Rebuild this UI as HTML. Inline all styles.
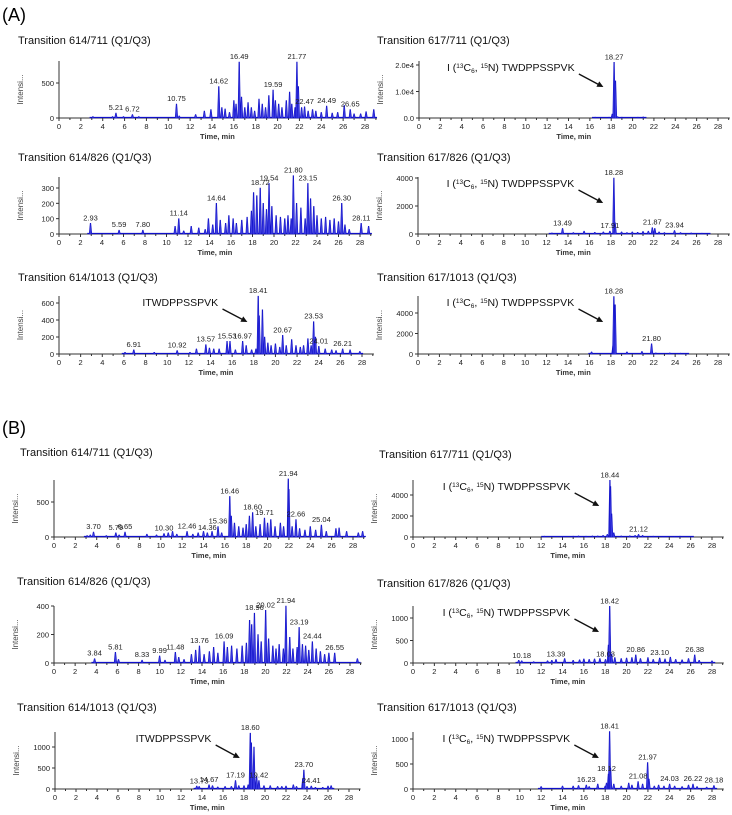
<!DOCTYPE html>
<html><head><meta charset="utf-8">
<style>
body{margin:0;background:#fff;}
svg{display:block;font-family:"Liberation Sans",Arial,sans-serif;}
</style></head>
<body>
<svg id="fig" width="732" height="815" viewBox="0 0 732 815" xmlns="http://www.w3.org/2000/svg">
<text x="2" y="21" font-size="18">(A)</text>
<text x="2" y="434" font-size="18">(B)</text>
</svg>
<script>
// ---- data: peak retention times (min) and intensities ----
const a1Times=[3.1,4.9,5.21,5.9,6.72,7.3,10.75,11.0,12.5,13.3,13.9,14.62,14.9,15.2,15.6,16.0,16.2,16.49,16.7,17.0,17.3,17.6,17.9,18.3,18.6,18.9,19.2,19.59,19.8,20.1,20.4,20.8,21.1,21.3,21.6,21.77,21.9,22.2,22.47,22.8,23.2,23.5,24.0,24.49,25.0,25.5,26.1,26.65,27.0,27.6,28.1,28.8];
const a1Vals=[20,20,70,20,50,20,200,30,50,100,120,450,150,130,80,250,200,800,300,150,220,150,100,270,200,150,320,400,250,200,150,250,370,200,150,800,450,150,160,100,120,100,80,170,70,80,180,120,60,60,90,120];
const a1Labels=[5.21,6.72,10.75,14.62,16.49,19.59,21.77,22.47,24.49,26.65];

const a2Times=[2.93,5.59,7.80,10.8,11.14,11.6,12.3,13.0,13.6,13.9,14.3,14.64,15.0,15.5,15.8,16.2,16.5,17.0,17.5,17.9,18.1,18.4,18.72,19.0,19.3,19.54,19.8,20.2,20.6,21.0,21.3,21.6,21.80,22.1,22.5,22.9,23.15,23.4,23.7,24.0,24.4,24.8,25.2,25.6,26.0,26.30,26.6,27.0,28.11,28.8];
const a2Vals=[70,25,25,50,100,20,50,40,30,100,60,200,90,70,120,100,70,90,110,150,270,250,300,200,160,330,180,120,110,100,120,100,380,200,170,100,330,230,180,120,100,110,90,100,80,200,60,30,70,50];
const a2Labels=[2.93,5.59,7.80,11.14,14.64,18.72,19.54,21.80,23.15,26.30,28.11];

const a3Times=[6.1,6.91,8.8,10.92,12.1,12.7,13.57,13.9,14.3,14.8,15.53,15.8,16.3,16.97,17.3,17.8,18.2,18.41,18.5,18.8,19.0,19.3,19.6,20.0,20.4,20.67,21.0,21.5,21.9,22.3,22.6,23.0,23.3,23.53,23.7,24.01,24.6,25.2,25.6,26.21,26.9,27.8];
const a3Vals=[20,50,20,40,20,60,110,70,60,60,150,150,50,150,100,50,60,680,450,520,200,130,100,120,80,220,100,170,100,80,100,180,100,380,200,90,60,50,40,60,50,30];
const a3Labels=[6.91,10.92,13.57,15.53,16.97,18.41,20.67,23.53,24.01,26.21];

const a4Times=[16.5,17.8,18.1,18.27,18.4,18.6,19.0,20.5,21.0];
const a4Vals=[300,300,1500,21000,14000,500,300,300,400];
const a4Labels=[18.27];

const a5Times=[12.5,13.49,14.5,15.5,16.5,17.3,17.91,18.28,18.4,19.0,19.5,20.0,20.5,21.0,21.5,21.87,22.1,22.5,23.0,23.94,24.5,25.5,26.5,27.0];
const a5Vals=[80,400,100,200,120,150,200,4000,800,150,100,150,120,180,200,450,400,150,100,250,100,80,60,40];
const a5Labels=[13.49,17.91,18.28,21.87,23.94];

const a6Times=[16.2,18.2,18.28,18.4,19.5,20.9,21.80,22.2,23.5,24.5,25.0];
const a6Vals=[200,800,5600,4800,200,250,1000,100,100,80,60];
const a6Labels=[18.28,21.80];

const b1Times=[3.1,3.4,3.70,4.9,5.79,6.1,6.65,8.7,9.6,10.30,10.7,11.1,11.5,12.46,13.0,13.5,14.0,14.36,14.8,15.36,15.7,16.46,16.6,16.9,17.3,17.7,18.0,18.3,18.60,18.9,19.3,19.71,20.0,20.3,20.7,21.2,21.5,21.94,22.0,22.3,22.66,23.0,23.5,24.0,24.5,25.04,25.5,26.4,26.7,27.4,28.5,28.9];
const b1Vals=[20,30,70,20,60,30,70,40,30,50,60,80,40,80,40,60,80,60,80,150,60,580,300,200,150,130,180,300,350,150,180,270,200,250,150,200,150,830,680,150,250,120,100,150,100,170,80,120,130,80,60,80];
const b1Labels=[3.70,5.79,6.65,10.30,12.46,14.36,15.36,16.46,18.60,19.71,21.94,22.66,25.04];

const b2Times=[3.84,5.81,6.1,8.33,9.99,10.5,11.48,11.8,12.3,13.0,13.4,13.76,14.2,14.7,15.1,15.5,16.09,16.4,16.8,17.3,17.8,18.2,18.5,18.7,18.96,19.3,19.6,20.02,20.3,20.7,21.0,21.3,21.7,21.94,22.3,22.6,23.0,23.19,23.5,23.8,24.1,24.44,24.8,25.2,25.6,26.0,26.55,28.7];
const b2Vals=[30,75,25,20,50,20,75,40,25,60,90,120,60,80,110,70,150,110,120,100,120,140,300,270,350,200,150,370,170,120,100,130,100,400,180,100,110,250,130,120,90,150,100,80,60,70,70,30];
const b2Labels=[3.84,5.81,8.33,9.99,11.48,13.76,16.09,18.96,20.02,21.94,23.19,24.44,26.55];

const b3Times=[13.5,13.73,14.67,15.0,15.5,16.2,16.8,17.19,17.5,18.0,18.4,18.60,18.7,18.95,19.2,19.42,19.9,20.5,21.2,21.6,22.0,22.7,23.0,23.6,23.70,24.0,24.41,24.8,25.5,26.0,26.3];
const b3Vals=[70,60,100,80,50,60,60,200,80,80,100,1330,1100,1000,300,200,80,80,60,60,70,100,60,250,450,60,70,40,40,70,80];
const b3Labels=[13.73,14.67,17.19,18.60,19.42,23.70,24.41];

const b4Times=[12.3,14.0,15.0,15.5,16.2,16.8,17.3,17.8,18.2,18.44,18.5,18.6,18.8,19.5,20.3,20.8,21.12,21.5,22.5,23.5,24.5,25.0,26.0];
const b4Vals=[80,60,80,100,80,100,100,150,250,5400,4800,2200,400,100,120,150,250,150,80,60,60,80,60];
const b4Labels=[18.44,21.12];

const b5Times=[9.9,10.18,11.3,12.6,13.0,13.39,14.2,15.0,15.6,16.0,16.5,17.0,17.5,18.03,18.3,18.42,18.6,18.9,19.5,20.0,20.5,20.86,21.3,22.0,22.5,23.10,23.6,24.1,24.6,25.2,25.8,26.38,26.8,28.0];
const b5Vals=[60,50,30,50,60,80,100,60,70,90,80,90,100,80,400,1260,200,120,100,110,120,180,100,120,80,110,90,130,80,70,100,180,60,50];
const b5Labels=[10.18,13.39,18.03,18.42,20.86,23.10,26.38];

const b6Times=[12.0,14.0,15.0,15.5,16.23,16.5,17.3,18.0,18.12,18.3,18.41,18.5,18.8,19.5,20.2,20.5,21.08,21.5,21.97,22.1,22.6,23.0,23.5,24.03,24.5,25.2,25.8,26.22,26.6,27.5,28.18];
const b6Vals=[50,60,60,70,80,50,100,60,120,300,1150,420,100,60,120,80,150,100,530,200,60,80,60,100,60,50,80,100,50,40,70];
const b6Labels=[16.23,18.12,18.41,21.08,21.97,24.03,26.22,28.18];

const xTickLabels=[0,2,4,6,8,10,12,14,16,18,20,22,24,26,28];
const yTicksA1=[0,500], yTicksA2=[0,100,200,300], yTicksA3=[0,200,400,600];
const yTicksA4=[0,10000,20000], yTicksA5=[0,2000,4000], yTicksA6=[0,2000,4000];
const yTicksB1=[0,500], yTicksB2=[0,200,400], yTicksB3=[0,500,1000];
const yTicksB4=[0,2000,4000], yTicksB5=[0,500,1000], yTicksB6=[0,500,1000];

// ---- layout ----
const NS="http://www.w3.org/2000/svg";
const svg=document.getElementById('fig');
function mk(tag,attrs,parent){const e=document.createElementNS(NS,tag);for(const k in attrs)e.setAttribute(k,attrs[k]);(parent||svg).appendChild(e);return e;}
const BLUE="#1010c8";
const panels=[
 {id:'a1',title:'Transition 614/711 (Q1/Q3)',tx:18,ty:44,x0:59,x28:365,base:118,top:61,ref:500,refY:83,t:a1Times,v:a1Vals,lab:a1Labels,yt:yTicksA1,fmt:v=>String(v)},
 {id:'a2',title:'Transition 614/826 (Q1/Q3)',tx:18,ty:161,x0:59,x28:360,base:234,top:177,ref:300,refY:188,t:a2Times,v:a2Vals,lab:a2Labels,yt:yTicksA2,fmt:v=>String(v)},
 {id:'a3',title:'Transition 614/1013 (Q1/Q3)',tx:18,ty:281,x0:59,x28:362,base:354,top:296,ref:600,refY:303,t:a3Times,v:a3Vals,lab:a3Labels,yt:yTicksA3,fmt:v=>String(v),pep:'ITWDPPSSPVK',pepT:18.41},
 {id:'a4',title:'Transition 617/711 (Q1/Q3)',tx:377,ty:44,x0:419,x28:718,base:118,top:61,ref:20000,refY:65,t:a4Times,v:a4Vals,lab:a4Labels,yt:yTicksA4,fmt:v=>v===0?'0.0':(v/1e4).toFixed(1)+'e4',pep:'iso',pepT:18.27},
 {id:'a5',title:'Transition 617/826 (Q1/Q3)',tx:377,ty:161,x0:418,x28:718,base:234,top:177,ref:4000,refY:178,t:a5Times,v:a5Vals,lab:a5Labels,yt:yTicksA5,fmt:v=>String(v),pep:'iso',pepT:18.28},
 {id:'a6',title:'Transition 617/1013 (Q1/Q3)',tx:377,ty:281,x0:418,x28:718,base:354,top:296,ref:4000,refY:313,t:a6Times,v:a6Vals,lab:a6Labels,yt:yTicksA6,fmt:v=>String(v),pep:'iso',pepT:18.28},
 {id:'b1',title:'Transition 614/711 (Q1/Q3)',tx:20,ty:456,x0:54,x28:353,base:537,top:480,ref:500,refY:502,t:b1Times,v:b1Vals,lab:b1Labels,yt:yTicksB1,fmt:v=>String(v)},
 {id:'b2',title:'Transition 614/826 (Q1/Q3)',tx:17,ty:585,x0:54,x28:350,base:663,top:606,ref:400,refY:606,t:b2Times,v:b2Vals,lab:b2Labels,yt:yTicksB2,fmt:v=>String(v)},
 {id:'b3',title:'Transition 614/1013 (Q1/Q3)',tx:17,ty:711,x0:55,x28:349,base:789,top:732,ref:1000,refY:747,t:b3Times,v:b3Vals,lab:b3Labels,yt:yTicksB3,fmt:v=>String(v),pep:'ITWDPPSSPVK',pepT:18.60},
 {id:'b4',title:'Transition 617/711 (Q1/Q3)',tx:379,ty:458,x0:413,x28:712,base:537,top:480,ref:4000,refY:495,t:b4Times,v:b4Vals,lab:b4Labels,yt:yTicksB4,fmt:v=>String(v),pep:'iso',pepT:18.44},
 {id:'b5',title:'Transition 617/826 (Q1/Q3)',tx:377,ty:587,x0:413,x28:712,base:663,top:606,ref:1000,refY:618,t:b5Times,v:b5Vals,lab:b5Labels,yt:yTicksB5,fmt:v=>String(v),pep:'iso',pepT:18.42},
 {id:'b6',title:'Transition 617/1013 (Q1/Q3)',tx:377,ty:711,x0:413,x28:712,base:789,top:732,ref:1000,refY:739,t:b6Times,v:b6Vals,lab:b6Labels,yt:yTicksB6,fmt:v=>String(v),pep:'iso',pepT:18.41}
];

panels.forEach(p=>{
  const g=mk('g',{});
  
  
  const X=t=>p.x0+(p.x28-p.x0)*t/28;
  const Y=v=>p.base-(p.base-p.refY)*v/p.ref;
  const tt=mk('text',{x:p.tx,y:p.ty,'font-size':11,fill:'#111'},g);
  tt.textContent=p.title;
  
  
  const ya=mk('line',{x1:p.x0,y1:p.top,x2:p.x0,y2:p.base,stroke:'#333','stroke-width':1},g);
  
  
  p.yt.forEach(v=>{
    mk('line',{x1:p.x0-3,y1:Y(v),x2:p.x0,y2:Y(v),stroke:'#333'},g);
    const l=mk('text',{x:p.x0-5,y:Y(v)+3,'font-size':7.5,'text-anchor':'end',fill:'#222'},g);
    l.textContent=p.fmt(v);
    
    
  });
  const yl=mk('text',{x:0,y:0,'font-size':8,fill:'#444','text-anchor':'middle',transform:`translate(${p.x0-36},${(p.top+p.base)/2}) rotate(-90)`},g);
  yl.textContent='Intensi...';
  
  
  const xa=mk('line',{x1:p.x0,y1:p.base,x2:X(29.1),y2:p.base,stroke:'#333'},g);
  
  
  for(let t=0;t<=29;t++) mk('line',{x1:X(t),y1:p.base,x2:X(t),y2:p.base+(t%2?2:3),stroke:'#333'},g);
  xTickLabels.forEach(t=>{
    const l=mk('text',{x:X(t),y:p.base+11,'font-size':7.5,'text-anchor':'middle',fill:'#222'},g);
    l.textContent=t;
    
    
  });
  const xl=mk('text',{x:X(14.5),y:p.base+21,'font-size':7.5,'font-weight':'bold','text-anchor':'middle',fill:'#333'},g);
  xl.textContent='Time, min';
  
  
  const t0=p.t[0], t1=p.t[p.t.length-1];
  mk('line',{x1:X(t0-0.3),y1:p.base-0.5,x2:X(t1+0.3),y2:p.base-0.5,stroke:BLUE,'stroke-width':1.2},g);
  p.t.forEach((t,i)=>{
    const x=X(t), y=Y(p.v[i]);
    const pk=mk('polygon',{points:`${x-1.3},${p.base} ${x-0.3},${y} ${x+0.3},${y} ${x+1.3},${p.base}`,fill:'#3a3ae0',stroke:BLUE,'stroke-width':0.6},g);
    
    
  });
  p.lab.forEach(lt=>{
    let best=0;
    p.t.forEach((t,i)=>{if(Math.abs(t-lt)<0.2&&p.v[i]>best)best=p.v[i];});
    const l=mk('text',{x:X(lt),y:Y(best)-3,'font-size':7.5,'text-anchor':'middle',fill:'#222'},g);
    l.textContent=lt.toFixed(2);
    
    
  });
  if(p.pep){
    const tx=X(p.pepT-3.7), ty=p.top+10;
    const l=mk('text',{x:tx,y:ty,'font-size':10.5,'text-anchor':'end',fill:'#111'},g);
    if(p.pep==='iso'){
      l.innerHTML='I (<tspan font-size="6.5" dy="-3">13</tspan><tspan dy="3">C</tspan><tspan font-size="6.5" dy="2">6</tspan><tspan dy="-2">, </tspan><tspan font-size="6.5" dy="-3">15</tspan><tspan dy="3">N) TWDPPSSPVK</tspan>';
    } else l.textContent=p.pep;
    
    
    const ax1=X(p.pepT-3.3), ay1=ty+3, ax2=X(p.pepT-1.0), ay2=ty+16;
    const ar=mk('line',{x1:ax1,y1:ay1,x2:ax2-3,y2:ay2-1.5,stroke:'#111','stroke-width':1.3},g);
    
    
    const ang=Math.atan2(ay2-ay1,ax2-ax1);
    const hx=(a,r)=>ax2-r*Math.cos(ang+a), hy=(a,r)=>ay2-r*Math.sin(ang+a);
    mk('polygon',{points:`${ax2},${ay2} ${hx(0.45,7)},${hy(0.45,7)} ${hx(-0.45,7)},${hy(-0.45,7)}`,fill:'#111'},g);
  }
});
</script>
</body></html>
